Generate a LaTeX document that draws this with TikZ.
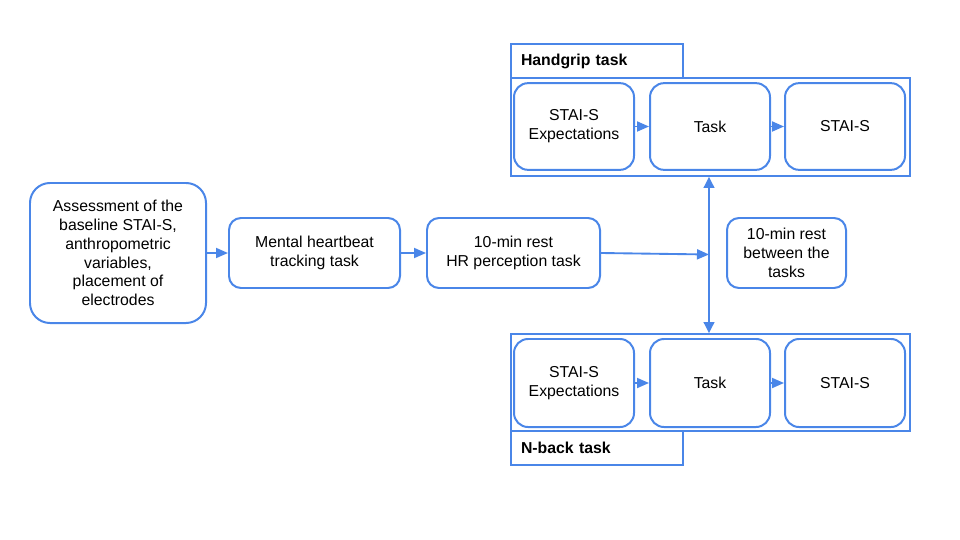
\documentclass[tikz,border=0pt]{standalone}
\usepackage{fontspec}
\setmainfont{Liberation Sans}
\usetikzlibrary{arrows.meta}
\definecolor{myblue}{RGB}{74,134,232}
\tikzset{
  txt/.style={font={\fontsize{13.5pt}{16.1pt}\selectfont}, align=center, text=black, inner sep=0pt},
  rbox/.style={txt, draw=myblue, line width=1.7pt, rounded corners=0.36cm},
  ibox/.style={txt, draw=myblue, line width=1.7pt, rounded corners=0.42cm, minimum width=3.6cm, minimum height=2.6cm},
  obox/.style={draw=myblue, line width=1.5pt, minimum width=11.97cm, inner sep=0pt},
  lbox/.style={draw=myblue, line width=1.5pt, font={\fontsize{13.5pt}{15.9pt}\selectfont\bfseries}, align=left, text width=4.56cm, inner xsep=0.3cm, inner ysep=0pt, minimum height=1.02cm},
  arr/.style={draw=myblue, line width=1.6pt, -{Triangle[length=0.36cm,width=0.3cm]}},
  darr/.style={draw=myblue, line width=1.6pt, {Triangle[length=0.33cm,width=0.32cm]}-{Triangle[length=0.33cm,width=0.32cm]}}
}
\begin{document}
\begin{tikzpicture}[x=0.03cm,y=-0.03cm]
\useasboundingbox (0,0) rectangle (960,540);
% left chain
\node[rbox, rounded corners=0.6cm, minimum width=5.28cm, minimum height=4.2cm] (A) at (118,253)
  {Assessment of the\\baseline STAI-S,\\anthropometric\\variables,\\placement of\\electrodes};
\node[rbox, minimum width=5.13cm, minimum height=2.1cm] (B) at (314.5,253)
  {Mental heartbeat\\tracking task};
\node[rbox, minimum width=5.19cm, minimum height=2.1cm] (C) at (513.5,253)
  {10-min rest\\HR perception task};
\node[rbox, minimum width=3.57cm, minimum height=2.1cm] (D) at (786.5,253)
  {10-min rest\\between the\\tasks};
% top group
\node[obox, minimum height=2.94cm] (TO) at (710.5,127) {};
\node[lbox] (TL) at (597,61) {Handgrip task};
\node[ibox] (T1) at (574,126.5) {STAI-S\\Expectations};
\node[ibox] (T2) at (710,126.5) {Task};
\node[ibox] (T3) at (845,126.5) {STAI-S};
% bottom group
\node[obox, minimum height=2.91cm] (BO) at (710.5,382.5) {};
\node[lbox] (BL) at (597,448) {N-back task};
\node[ibox, minimum height=2.64cm] (B1) at (574,383) {STAI-S\\Expectations};
\node[ibox, minimum height=2.64cm] (B2) at (710,383) {Task};
\node[ibox, minimum height=2.64cm] (B3) at (845,383) {STAI-S};
% connectors
\draw[arr] (A.east) -- (B.west);
\draw[arr] (B.east) -- (C.west);
\coordinate (M) at (709,254.5);
\draw[arr] (C.east) -- (M);
\draw[darr] (TO.south -| M) -- (BO.north -| M);
\draw[arr] (T1.east) -- (T2.west);
\draw[arr] (T2.east) -- (T3.west);
\draw[arr] (B1.east) -- (B2.west);
\draw[arr] (B2.east) -- (B3.west);
\end{tikzpicture}
\end{document}
